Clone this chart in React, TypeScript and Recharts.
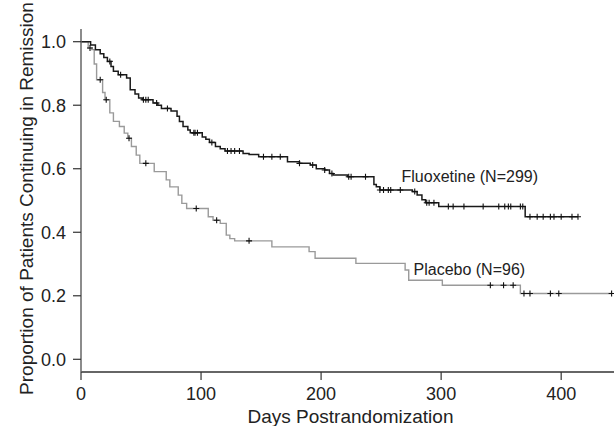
import React from 'react';
import { LineChart, Line, XAxis, YAxis, ReferenceDot } from 'recharts';

// Kaplan-Meier steps: [day, proportion]
const fluoxetineSteps: [number, number][] = [
  [0, 1.0], [8, 0.99], [12, 0.975], [16, 0.962], [19, 0.95], [22, 0.938], [25, 0.922], [27, 0.907],
  [31, 0.896], [38, 0.886], [41, 0.849], [45, 0.835], [48, 0.823], [51, 0.817], [60, 0.807], [64, 0.8],
  [67, 0.79], [75, 0.782], [80, 0.765], [82, 0.749], [85, 0.733], [89, 0.722], [91, 0.713], [101, 0.7],
  [104, 0.693], [107, 0.683], [112, 0.67], [116, 0.663], [120, 0.656], [135, 0.648], [140, 0.645],
  [148, 0.638], [172, 0.622], [182, 0.617], [191, 0.612], [196, 0.6], [203, 0.596], [207, 0.585],
  [210, 0.58], [222, 0.575], [244, 0.55], [246, 0.543], [249, 0.533], [276, 0.528], [280, 0.517],
  [284, 0.502], [287, 0.493], [298, 0.481], [370, 0.449], [414, 0.449],
];

const fluoxetineCensored: [number, number][] = [
  [24, 0.938], [33, 0.896], [52, 0.817], [54, 0.817], [56, 0.817], [63, 0.807], [72, 0.79],
  [94, 0.713], [95, 0.713], [97, 0.713], [109, 0.683], [122, 0.656], [125, 0.656], [128, 0.656],
  [132, 0.656], [152, 0.638], [159, 0.638], [166, 0.638], [182, 0.617], [193, 0.612], [203, 0.596],
  [209, 0.585], [223, 0.575], [225, 0.575], [237, 0.575], [249, 0.533], [252, 0.533], [256, 0.533],
  [258, 0.533], [266, 0.533], [278, 0.528], [288, 0.493], [290, 0.493], [294, 0.493], [306, 0.481],
  [310, 0.481], [319, 0.481], [335, 0.481], [348, 0.481], [353, 0.481], [356, 0.481], [358, 0.481],
  [366, 0.481], [368, 0.481], [374, 0.449], [380, 0.449], [385, 0.449], [391, 0.449], [394, 0.449],
  [400, 0.449], [409, 0.449], [414, 0.449],
];

const placeboSteps: [number, number][] = [
  [0, 1.0], [6, 0.98], [9, 0.975], [11, 0.93], [13, 0.88], [18, 0.84], [20, 0.817], [24, 0.776],
  [27, 0.749], [32, 0.733], [36, 0.712], [39, 0.696], [42, 0.67], [46, 0.643], [49, 0.617],
  [61, 0.591], [71, 0.565], [74, 0.543], [81, 0.517], [84, 0.491], [88, 0.475], [106, 0.449],
  [110, 0.438], [116, 0.428], [121, 0.391], [124, 0.38], [128, 0.373], [159, 0.354], [190, 0.339],
  [195, 0.318], [229, 0.302], [270, 0.281], [273, 0.249], [301, 0.233], [366, 0.207], [442, 0.207],
];

const placeboCensored: [number, number][] = [
  [7.5, 0.98], [16, 0.88], [21, 0.817], [40, 0.696], [54, 0.617], [96, 0.475], [113, 0.438],
  [140, 0.373], [341, 0.233], [352, 0.233], [360, 0.233], [369, 0.207], [374, 0.207], [391, 0.207],
  [398, 0.207], [442, 0.207],
];

const xTicks = [0, 100, 200, 300, 400];
const yTicks = [0, 0.2, 0.4, 0.6, 0.8, 1.0];

const FONT = '"Liberation Sans", Arial, Helvetica, sans-serif';
const TEXT = '#222';

type Pt = { day: number; s: number; c: boolean };

const build = (steps: [number, number][], cens: [number, number][]): Pt[] =>
  [
    ...steps.map(([day, s]) => ({ day, s, c: false })),
    ...cens.map(([day, s]) => ({ day, s, c: true })),
  ].sort((a, b) => a.day - b.day || (a.c ? 1 : -1));

const fluoxetineData = build(fluoxetineSteps, fluoxetineCensored);
const placeboData = build(placeboSteps, placeboCensored);

const Censor = (props: any) => {
  const { cx, cy, payload, index } = props;
  if (!payload || !payload.c || cx == null || cy == null) return <g key={index} />;
  return (
    <path
      key={index}
      d={`M${cx - 3},${cy}H${cx + 3}M${cx},${cy - 3}V${cy + 3}`}
      stroke="#111"
      strokeWidth={1.1}
      fill="none"
    />
  );
};

const tickStyle = { fontSize: 18, fill: TEXT, fontFamily: FONT };

export default function App() {
  return (
    <div style={{ position: 'absolute', left: 0, top: 0, width: 614, height: 426, background: '#fff' }}>
      <LineChart width={614} height={426} margin={{ top: 29, right: 0, bottom: 24, left: 0 }}>
        <XAxis
          dataKey="day"
          type="number"
          domain={[0, 444]}
          ticks={xTicks}
          allowDataOverflow
          height={30}
          tickSize={8}
          tickMargin={7}
          tick={tickStyle}
          axisLine={{ stroke: '#333', strokeWidth: 1.5 }}
          tickLine={{ stroke: '#333', strokeWidth: 1.2 }}
          label={{
            content: (p: any) => {
              const vb = p.viewBox || { x: 81, y: 372, width: 533 };
              return (
                <text x={vb.x + vb.width / 2 + 3} y={vb.y + 51} textAnchor="middle" fontSize={19} fill={TEXT} fontFamily={FONT}>
                  Days Postrandomization
                </text>
              );
            },
          }}
        />
        <YAxis
          type="number"
          domain={[-0.04, 1.04]}
          ticks={yTicks}
          allowDataOverflow
          width={81}
          tickSize={8}
          tickMargin={7}
          tick={tickStyle}
          tickFormatter={(v: number) => v.toFixed(1)}
          axisLine={{ stroke: '#666', strokeWidth: 1.5 }}
          tickLine={{ stroke: '#333', strokeWidth: 1.2 }}
          label={{
            content: (p: any) => {
              const vb = p.viewBox || { x: 0, y: 29, width: 81, height: 343 };
              const cx = 33;
              const cy = vb.y + vb.height / 2 - 2;
              return (
                <text x={cx} y={cy} transform={`rotate(-90, ${cx}, ${cy})`} textAnchor="middle" fontSize={19} fill={TEXT} fontFamily={FONT}>
                  Proportion of Patients Continuing in Remission
                </text>
              );
            },
          }}
        />
        <Line
          data={placeboData}
          dataKey="s"
          type="stepAfter"
          stroke="#9a9a9a"
          strokeWidth={1.4}
          dot={Censor}
          activeDot={false}
          isAnimationActive={false}
        />
        <Line
          data={fluoxetineData}
          dataKey="s"
          type="stepAfter"
          stroke="#1a1a1a"
          strokeWidth={1.5}
          dot={Censor}
          activeDot={false}
          isAnimationActive={false}
        />
        <ReferenceDot
          x={267}
          y={0.559}
          r={0}
          fill="none"
          stroke="none"
          label={{
            content: (p: any) => (
              <text x={p.viewBox.x} y={p.viewBox.y} fontSize={16} fill={TEXT} fontFamily={FONT}>
                Fluoxetine (N=299)
              </text>
            ),
          }}
        />
        <ReferenceDot
          x={277}
          y={0.265}
          r={0}
          fill="none"
          stroke="none"
          label={{
            content: (p: any) => (
              <text x={p.viewBox.x} y={p.viewBox.y} fontSize={16} fill={TEXT} fontFamily={FONT}>
                Placebo (N=96)
              </text>
            ),
          }}
        />
      </LineChart>
    </div>
  );
}
